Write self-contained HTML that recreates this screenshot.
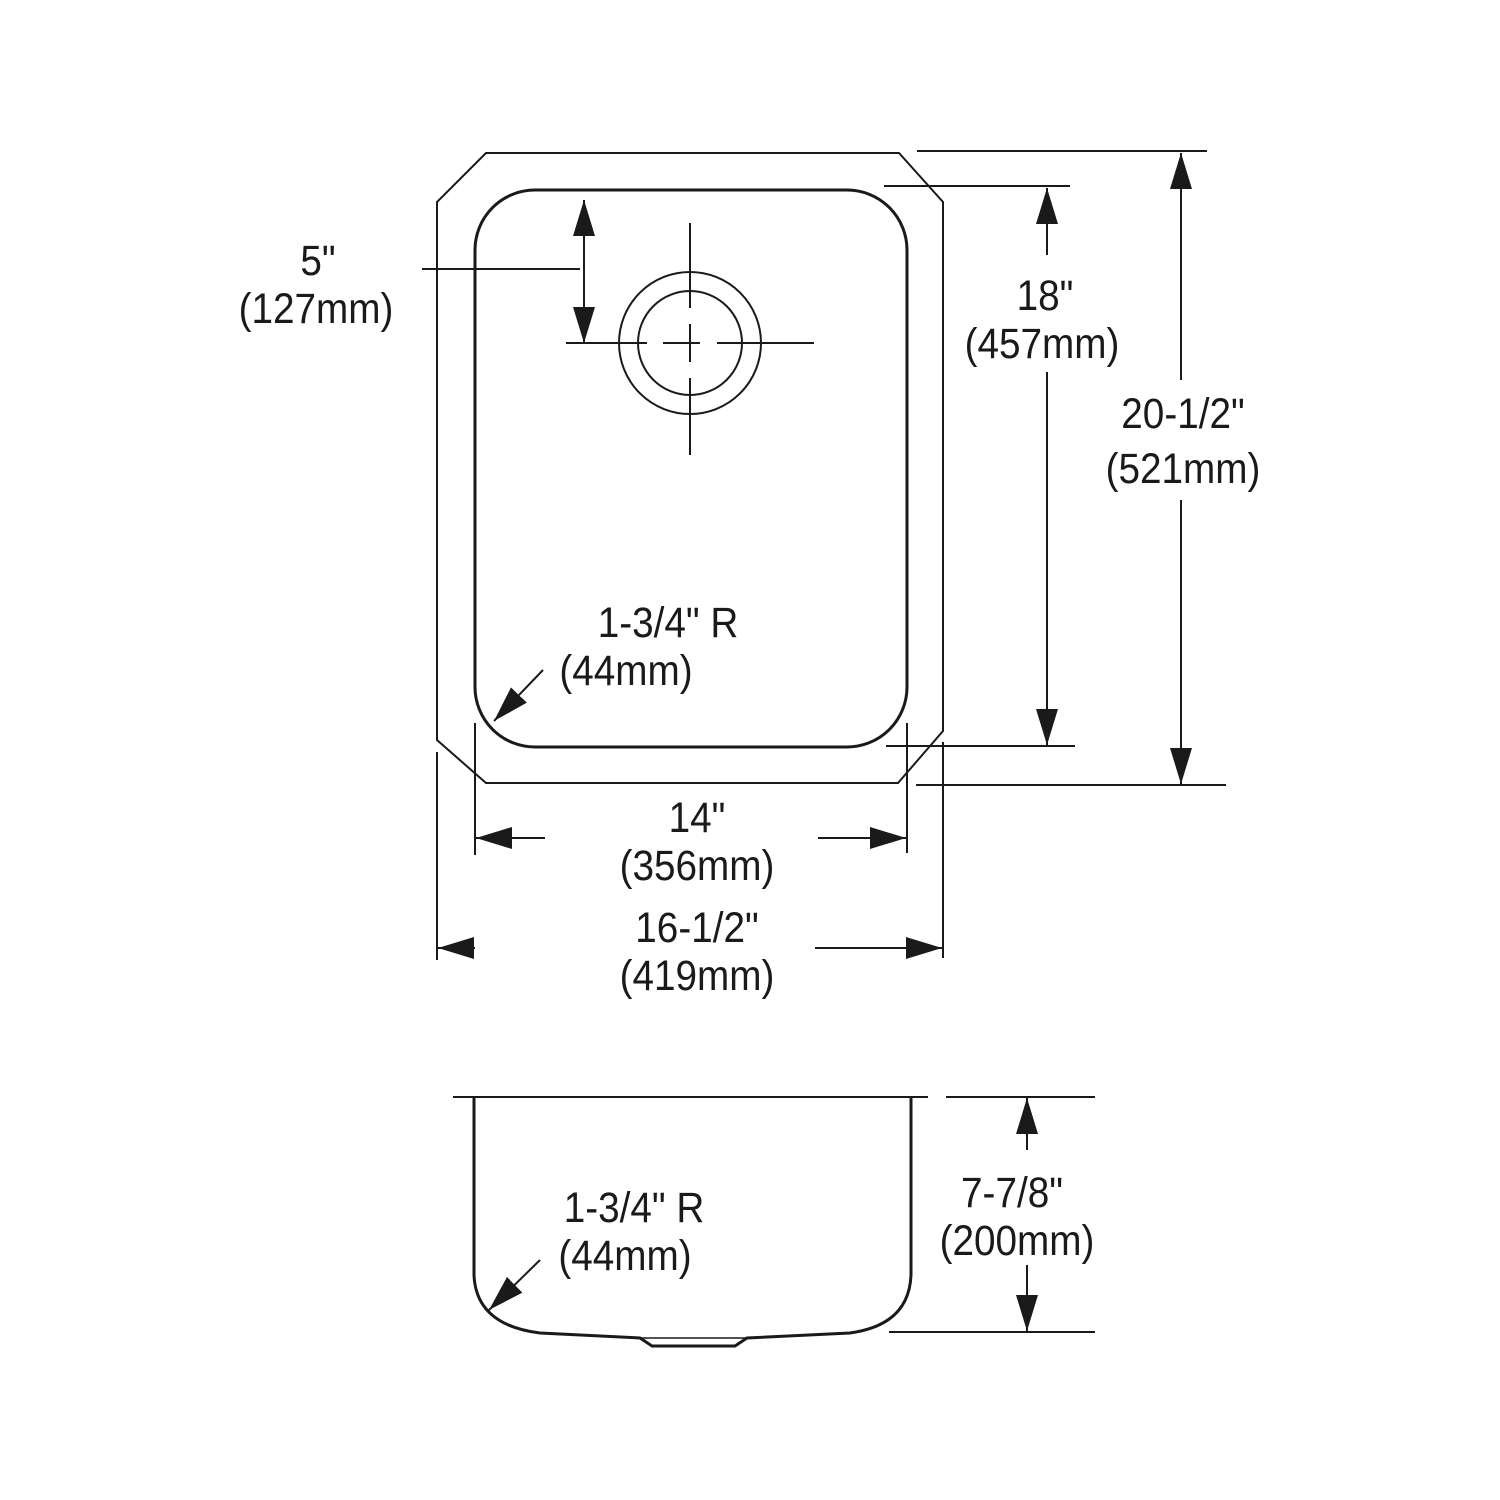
<!DOCTYPE html>
<html><head><meta charset="utf-8"><style>html,body{margin:0;padding:0;background:#fff}svg{display:block}</style></head>
<body>
<svg width="1500" height="1500" viewBox="0 0 1500 1500" xmlns="http://www.w3.org/2000/svg">
<defs>
<marker id="a" viewBox="0 0 36 22" refX="36" refY="11" markerWidth="36" markerHeight="22" markerUnits="userSpaceOnUse" orient="auto">
<path d="M0,0 L36,11 L0,22 Z" fill="#1a1a1a"/></marker>
</defs>
<g fill="none" stroke="#1a1a1a" stroke-width="2">
<path d="M486,153 L899,153 L943,202 L943,731 L898,783 L486,783 L437,740 L437,202 Z"/>
<rect x="475" y="190" width="432" height="557" rx="60" ry="60" stroke-width="3"/>
<circle cx="690" cy="343" r="71"/>
<circle cx="690" cy="343" r="52"/>
<line x1="690" y1="223" x2="690" y2="308"/>
<line x1="690" y1="324" x2="690" y2="362"/>
<line x1="690" y1="378" x2="690" y2="455"/>
<line x1="566" y1="343" x2="647" y2="343"/>
<line x1="663" y1="343" x2="700" y2="343"/>
<line x1="717" y1="343" x2="814" y2="343"/>
<line x1="422" y1="269" x2="580" y2="269"/>
<line x1="584" y1="270" x2="584" y2="200" marker-end="url(#a)"/>
<line x1="584" y1="270" x2="584" y2="343" marker-end="url(#a)"/>
<line x1="884" y1="186" x2="1070" y2="186"/>
<line x1="886" y1="746" x2="1075" y2="746"/>
<line x1="1047" y1="255" x2="1047" y2="188" marker-end="url(#a)"/>
<line x1="1047" y1="372" x2="1047" y2="745" marker-end="url(#a)"/>
<line x1="917" y1="151" x2="1207" y2="151"/>
<line x1="916" y1="785" x2="1226" y2="785"/>
<line x1="1181" y1="380" x2="1181" y2="153" marker-end="url(#a)"/>
<line x1="1181" y1="500" x2="1181" y2="784" marker-end="url(#a)"/>
<line x1="475" y1="723" x2="475" y2="855"/>
<line x1="907" y1="723" x2="907" y2="853"/>
<line x1="545" y1="838" x2="476" y2="838" marker-end="url(#a)"/>
<line x1="818" y1="838" x2="906" y2="838" marker-end="url(#a)"/>
<line x1="437" y1="752" x2="437" y2="960"/>
<line x1="943" y1="742" x2="943" y2="958"/>
<line x1="475" y1="948" x2="438" y2="948" marker-end="url(#a)"/>
<line x1="815" y1="948" x2="942" y2="948" marker-end="url(#a)"/>
<line x1="543" y1="670" x2="494" y2="721" marker-end="url(#a)"/>
<line x1="453" y1="1097" x2="928" y2="1097"/>
<path d="M474,1097 L474,1275 Q476,1325 540,1333 L640,1338 L652,1346 L735,1346 L747,1338 L850,1333 Q909,1325 911,1275 L911,1097" stroke-width="3"/>
<line x1="640" y1="1338" x2="747" y2="1338" stroke-width="1.5"/>
<line x1="540" y1="1260" x2="489" y2="1310" marker-end="url(#a)"/>
<line x1="946" y1="1097" x2="1095" y2="1097"/>
<line x1="889" y1="1332" x2="1095" y2="1332"/>
<line x1="1027" y1="1150" x2="1027" y2="1098" marker-end="url(#a)"/>
<line x1="1027" y1="1265" x2="1027" y2="1331" marker-end="url(#a)"/>
</g>
<g font-family="'Liberation Sans', Arial, sans-serif" font-size="43" fill="#1a1a1a" text-anchor="middle">
<text transform="translate(318,275) scale(0.9,1)">5"</text>
<text transform="translate(316,323) scale(0.9,1)">(127mm)</text>
<text transform="translate(1045,310) scale(0.9,1)">18"</text>
<text transform="translate(1042,358) scale(0.9,1)">(457mm)</text>
<text transform="translate(1183,428) scale(0.9,1)">20-1/2"</text>
<text transform="translate(1183,483) scale(0.9,1)">(521mm)</text>
<text transform="translate(697,832) scale(0.9,1)">14"</text>
<text transform="translate(697,880) scale(0.9,1)">(356mm)</text>
<text transform="translate(697,942) scale(0.9,1)">16-1/2"</text>
<text transform="translate(697,990) scale(0.9,1)">(419mm)</text>
<text transform="translate(668,637) scale(0.9,1)">1-3/4" R</text>
<text transform="translate(626,685) scale(0.9,1)">(44mm)</text>
<text transform="translate(634,1222) scale(0.9,1)">1-3/4" R</text>
<text transform="translate(625,1270) scale(0.9,1)">(44mm)</text>
<text transform="translate(1012,1207) scale(0.9,1)">7-7/8"</text>
<text transform="translate(1017,1255) scale(0.9,1)">(200mm)</text>
</g>
</svg>
</body></html>
